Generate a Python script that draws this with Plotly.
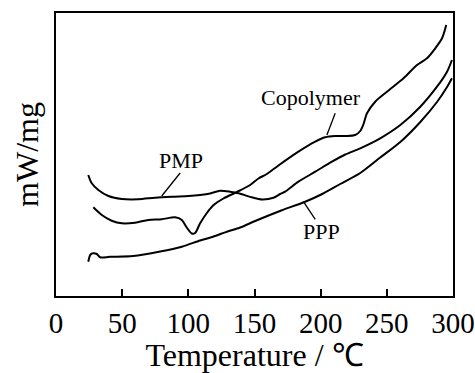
import plotly.graph_objects as go

# Temperature (°C) and heat-flow signal (arbitrary units)
pmp_t = [24.4, 27.0, 32.0, 39.6, 49.7, 62.2, 74.9, 87.5, 100.1, 108.9, 116.5, 124.0, 131.6,
         137.9, 148.0, 155.8, 164.3, 169.4, 173.2, 183.2, 195.9, 208.5, 218.6, 229.9, 245.0,
         260.2, 275.3, 287.9, 295.5, 299.2]
pmp_y = [121, 112.7, 106, 100, 97, 96.7, 98.3, 99.3, 100, 101, 102.5, 105.3, 104.3,
         102.7, 98.7, 96.5, 98.2, 102, 104.3, 114.3, 124.3, 134.3, 141.5, 147.7, 157.7,
         171, 189.3, 209.3, 224.3, 236]

copo_t = [28.2, 34.6, 42.1, 49.7, 59.7, 69.8, 79.9, 90.0, 95.1, 98.8, 102.6, 105.1, 108.9,
          114.0, 118.7, 126.5, 136.7, 146.7, 153.0, 159.3, 168.1, 183.2, 195.9, 203.4, 211.0,
          218.6, 226.1, 229.9, 232.4, 235.0, 241.2, 250.1, 262.6, 272.8, 280.3, 286.6, 291.7,
          294.9]
copo_y = [88.7, 81, 75.3, 72.7, 73.3, 76, 76.7, 78.7, 76, 68.5, 62.5, 63, 72.7,
          83, 90.5, 97.5, 104, 111, 117.5, 122, 130.5, 144.3, 154.3, 158.7, 160,
          160, 161, 165, 172, 182.7, 194.3, 204.3, 217.7, 231, 237.7, 247.7, 257.7,
          271]

ppp_t = [24.4, 26.1, 28.2, 30.8, 33.3, 40.8, 58.2, 78.7, 95.1, 108.9, 118.7, 129.1, 139.2,
         150.5, 170.2, 188.3, 201.2, 214.8, 229.9, 245.0, 260.2, 275.3, 287.9, 295.5, 299.2]
ppp_y = [34.3, 41.5, 42.7, 42, 38.7, 39.2, 40, 44.5, 49.3, 55.5, 59.3, 64.3, 68.5,
         75, 85.5, 94.3, 102, 112, 123, 138.5, 154, 174, 194, 209, 217.7]

x_ticks = [0, 50, 100, 150, 200, 250, 300]

# curve labels: (text, label x, label y, leader start x, y, leader end x, y)
labels = [
    ("PMP", 94.5, 136, 93.8, 123, 79.9, 100),
    ("Copolymer", 192.8, 199, 211.0, 182.7, 204.7, 161),
    ("PPP", 200.9, 64.3, 187.0, 94.3, 195.9, 76.7),
]

FONT = "Liberation Serif, Times New Roman, serif"

fig = go.Figure()
for t, y, name in [(pmp_t, pmp_y, "PMP"), (copo_t, copo_y, "Copolymer"), (ppp_t, ppp_y, "PPP")]:
    fig.add_trace(go.Scatter(x=t, y=y, mode="lines", name=name,
                             line=dict(color="black", width=2, shape="spline", smoothing=0.8)))

for text, lx, ly, x0, y0, x1, y1 in labels:
    fig.add_annotation(x=lx, y=ly, text=text, showarrow=False,
                       font=dict(family=FONT, size=22, color="black"))
    fig.add_shape(type="line", x0=x0, y0=y0, x1=x1, y1=y1,
                  line=dict(color="black", width=1.3))

fig.update_layout(
    width=475, height=373,
    margin=dict(l=56, r=22, t=13, b=77, autoexpand=False),
    paper_bgcolor="white", plot_bgcolor="white",
    showlegend=False,
    font=dict(family=FONT, color="black"),
)
fig.update_xaxes(range=[0, 300], tickvals=x_ticks, ticktext=[str(v) for v in x_ticks],
                 ticks="inside", ticklen=7, tickwidth=1.5, tickcolor="black",
                 showline=True, linecolor="black", linewidth=2, mirror=True,
                 showgrid=False, zeroline=False, automargin=False,
                 tickfont=dict(family=FONT, size=29, color="black"),
                 title=dict(text="Temperature / ℃", font=dict(family=FONT, size=32, color="black"),
                            standoff=4))
fig.update_yaxes(range=[0, 283], showticklabels=False, ticks="",
                 showline=True, linecolor="black", linewidth=2, mirror=True,
                 showgrid=False, zeroline=False, automargin=False,
                 title=dict(text="mW/mg", font=dict(family=FONT, size=32, color="black"),
                            standoff=6))

fig.write_html("out.html")
